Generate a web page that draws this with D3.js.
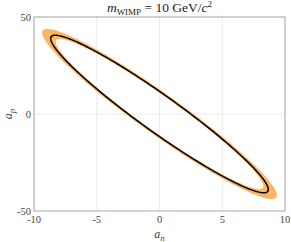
<!DOCTYPE html>
<html>
<head>
<meta charset="utf-8">
<script src="https://cdn.jsdelivr.net/npm/d3@7"></script>
<style>
  body { margin: 0; background: #fff; }
  text { font-family: "Liberation Serif", "DejaVu Serif", serif; }
</style>
</head>
<body>
<script>
// axis ticks
var xTicks = [-10, -5, 0, 5, 10];
var yTicks = [-50, 0, 50];
var xGrid = [-5, 0, 5];
var yGrid = [0];

// best-fit contour:
// rightmost point (a_n, a_p) and the a_p intercept at a_n = 0
var fitExtentAn = 8.67;
var fitExtentAp = -38.9;
var fitInterceptAp = 11.65;
// band scale factors (outer / inner edge of the orange band)
var bandScale = [1.075, 0.958];

var W = 291, H = 242;
var margin = {top: 17, right: 6, bottom: 31, left: 34};

var svg = d3.select("body").append("svg")
    .attr("width", W).attr("height", H);

var x = d3.scaleLinear().domain([-10, 10]).range([margin.left, W - margin.right]);
var y = d3.scaleLinear().domain([-50, 50]).range([H - margin.bottom, margin.top]);

// grid
svg.append("g").selectAll("line").data(xGrid).enter().append("line")
    .attr("x1", function(d) { return x(d); }).attr("x2", function(d) { return x(d); })
    .attr("y1", y(50)).attr("y2", y(-50))
    .attr("stroke", "#e6e6e6").attr("stroke-width", 0.8);
svg.append("g").selectAll("line").data(yGrid).enter().append("line")
    .attr("y1", function(d) { return y(d); }).attr("y2", function(d) { return y(d); })
    .attr("x1", x(-10)).attr("x2", x(10))
    .attr("stroke", "#e6e6e6").attr("stroke-width", 0.8);

function ellipsePts(s) {
  var pts = [];
  var n = 240;
  for (var i = 0; i < n; i++) {
    var t = 2 * Math.PI * i / n;
    pts.push([s * fitExtentAn * Math.cos(t),
              s * (fitExtentAp * Math.cos(t) + fitInterceptAp * Math.sin(t))]);
  }
  return pts;
}

var line = d3.line()
    .x(function(d) { return x(d[0]); })
    .y(function(d) { return y(d[1]); })
    .curve(d3.curveLinearClosed);

// orange band
svg.append("path")
    .attr("d", line(ellipsePts(bandScale[0])) + line(ellipsePts(bandScale[1]).reverse()))
    .attr("fill", "#fdb562")
    .attr("fill-rule", "evenodd")
    .attr("stroke", "#f5a03c")
    .attr("stroke-width", 0.6);

// best-fit line
svg.append("path")
    .attr("d", line(ellipsePts(1)))
    .attr("fill", "none")
    .attr("stroke", "#000")
    .attr("stroke-width", 1.5);

// box
svg.append("rect")
    .attr("x", x(-10)).attr("y", y(50))
    .attr("width", x(10) - x(-10)).attr("height", y(-50) - y(50))
    .attr("fill", "none").attr("stroke", "#8c8c8c").attr("stroke-width", 0.8);

// tick labels
svg.append("g").selectAll("text").data(xTicks).enter().append("text")
    .attr("x", function(d) { return x(d); })
    .attr("y", y(-50) + 12)
    .attr("text-anchor", "middle")
    .attr("font-size", 10.5)
    .attr("fill", "#444")
    .text(function(d) { return d; });

svg.append("g").selectAll("text").data(yTicks).enter().append("text")
    .attr("x", x(-10) - 3)
    .attr("y", function(d) { return y(d) + 3.5; })
    .attr("text-anchor", "end")
    .attr("font-size", 10.5)
    .attr("fill", "#444")
    .text(function(d) { return d; });

// axis labels
var xl = svg.append("text")
    .attr("x", x(0)).attr("y", 238)
    .attr("text-anchor", "middle")
    .attr("font-size", 12).attr("fill", "#444");
xl.append("tspan").attr("font-style", "italic").text("a");
xl.append("tspan").attr("font-style", "italic").attr("font-size", 9).attr("dy", 2.5).text("n");

var yl = svg.append("text")
    .attr("transform", "translate(12," + y(0) + ") rotate(-90)")
    .attr("text-anchor", "middle")
    .attr("font-size", 12).attr("fill", "#444");
yl.append("tspan").attr("font-style", "italic").text("a");
yl.append("tspan").attr("font-style", "italic").attr("font-size", 9).attr("dy", 2.5).text("p");

// title
var tl = svg.append("text")
    .attr("x", x(0)).attr("y", 12)
    .attr("text-anchor", "middle")
    .attr("font-size", 13.5).attr("fill", "#222");
tl.append("tspan").attr("font-style", "italic").text("m");
tl.append("tspan").attr("font-size", 9).attr("dy", 2.5).text("WIMP");
tl.append("tspan").attr("dy", -2.5).text(" = 10 GeV/");
tl.append("tspan").attr("font-style", "italic").text("c");
tl.append("tspan").attr("font-size", 9).attr("dy", -5).text("2");
</script>
</body>
</html>
